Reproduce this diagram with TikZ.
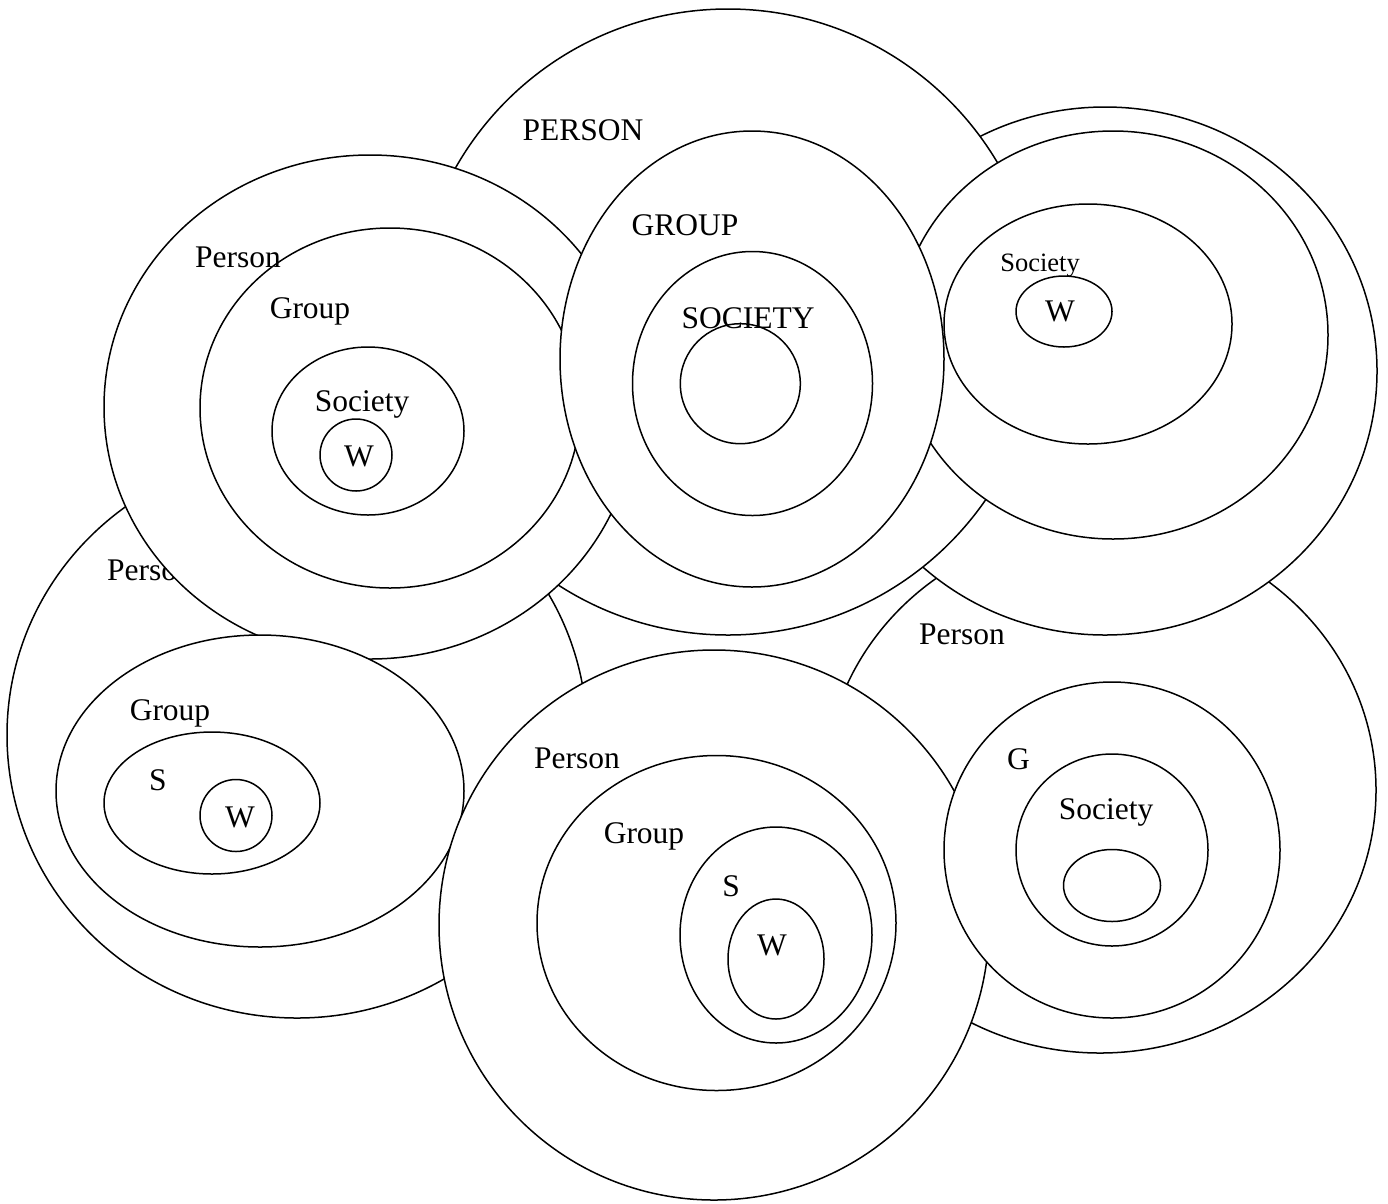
\documentclass[tikz,border=0pt]{standalone}
\usepackage{fontspec}
\setmainfont{Liberation Serif}
\begin{document}
\begin{tikzpicture}[x=1pt,y=-1pt,line width=1.5pt,
  ring/.style={draw=black,fill=white},
  lbl/.style={anchor=base,inner sep=0pt,font=\fontsize{31.5}{36}\selectfont},
  lblsmall/.style={anchor=base,inner sep=0pt,font=\fontsize{26.5}{30}\selectfont}]
\fill[white] (0,0) rectangle (1388,1203);
\useasboundingbox (0,0) rectangle (1388,1203);
% bottom-right outer
\draw[ring] (1100,790) ellipse [x radius=276, y radius=263];
\node[lbl] (brP) at (962,644) {Person};
% top-right outermost
\draw[ring] (1105,371) ellipse [x radius=272, y radius=264];
% top-centre PERSON
\draw[ring] (728,322) circle [radius=313];
\node[lbl] (pcP) at (583,140) {PERSON};
% bottom-left outer
\draw[ring] (297,735) ellipse [x radius=290, y radius=283];
\node[lbl] (blP) at (150,580) {Person};
% top-left group
\draw[ring] (370,407) ellipse [x radius=266, y radius=252];
\draw[ring] (390,408) ellipse [x radius=190, y radius=180];
\draw[ring] (368,431) ellipse [x radius=96, y radius=84];
\draw[ring] (356,455) circle [radius=36];
\node[lbl] (tlP) at (238,267) {Person};
\node[lbl] (tlG) at (310,318) {Group};
\node[lbl] (tlS) at (362,411) {Society};
\node[lbl] (tlW) at (359,466) {W};
% bottom-left inner
\draw[ring] (260,791) ellipse [x radius=204, y radius=156];
\draw[ring] (212,803) ellipse [x radius=108, y radius=71];
\draw[ring] (236,815.5) circle [radius=36];
\node[lbl] (blG) at (170,720) {Group};
\node[lbl] (blS) at (158,790) {S};
\node[lbl] (blW) at (240,827) {W};
% top-right inner
\draw[ring] (1113,335) ellipse [x radius=215, y radius=204];
\draw[ring] (1088,324) ellipse [x radius=144, y radius=120];
\draw[ring] (1064,311.5) ellipse [x radius=48, y radius=35.5];
\node[lblsmall] (trS) at (1040,271.5) {Society};
\node[lbl] (trW) at (1060,321) {W};
% top-centre inner
\draw[ring] (752,359) ellipse [x radius=192, y radius=228];
\draw[ring] (752.5,383.5) ellipse [x radius=120, y radius=132];
\draw (740.3,383.7) circle [radius=60];
\node[lbl] (pcG) at (685,235) {GROUP};
\node[lbl] (pcS) at (748,328) {SOCIETY};
% bottom-centre group
\draw[ring] (714,925) circle [radius=275];
\draw[ring] (716.5,923) ellipse [x radius=179.5, y radius=167.5];
\draw[ring] (776,935) ellipse [x radius=96, y radius=108];
\draw[ring] (776,959) ellipse [x radius=48, y radius=60];
\node[lbl] (bcP) at (577,768) {Person};
\node[lbl] (bcG) at (644,843) {Group};
\node[lbl] (bcS) at (731,896) {S};
\node[lbl] (bcW) at (772,955) {W};
% bottom-right inner
\draw[ring] (1112,850) circle [radius=168];
\draw[ring] (1112,850) circle [radius=96];
\draw[ring] (1112,885.5) ellipse [x radius=48.5, y radius=36];
\node[lbl] (brG) at (1018.5,769) {G};
\node[lbl] (brS) at (1106,819) {Society};
\end{tikzpicture}
\end{document}
